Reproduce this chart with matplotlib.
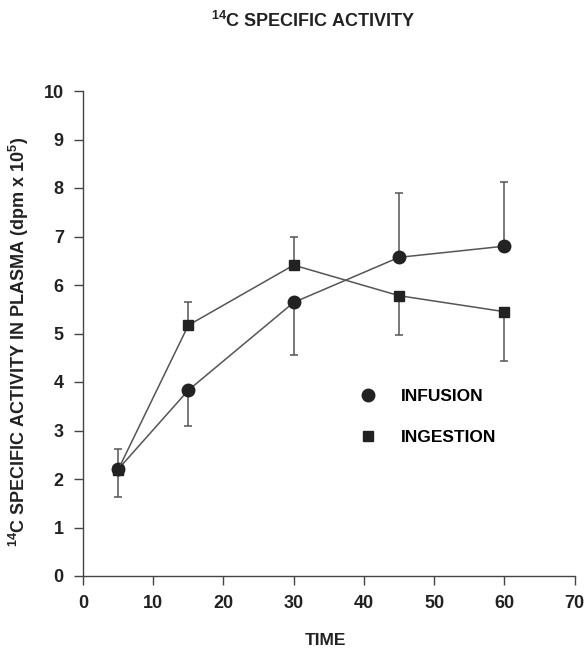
import matplotlib.pyplot as plt
from matplotlib.lines import Line2D

plt.rcParams['font.family'] = ['Liberation Sans', 'DejaVu Sans']
plt.rcParams['font.weight'] = 'bold'
plt.rcParams['mathtext.fontset'] = 'custom'
plt.rcParams['mathtext.rm'] = 'Liberation Sans:bold'
plt.rcParams['mathtext.bf'] = 'Liberation Sans:bold'
plt.rcParams['mathtext.default'] = 'bf'

time = [5, 15, 30, 45, 60]
infusion = [2.2, 3.83, 5.64, 6.57, 6.8]
infusion_lo = [0.57, 0.73, 1.08, 0.0, 0.0]
infusion_hi = [0.0, 0.0, 0.0, 1.32, 1.33]
ingestion = [2.19, 5.17, 6.41, 5.78, 5.45]
ingestion_lo = [0.0, 0.0, 0.0, 0.82, 1.01]
ingestion_hi = [0.42, 0.47, 0.57, 0.0, 0.0]

fig = plt.figure(figsize=(5.88, 6.5), dpi=100)
ax = fig.add_axes([83/588, 1-576/650, 491.5/588, 485/650])

ink = '#222222'
line_c = '#555555'
ax.errorbar(time, infusion, yerr=[infusion_lo, infusion_hi], fmt='-o', color=line_c,
            mfc=ink, mec=ink, ms=9, lw=1.1, ecolor=line_c, elinewidth=1.1,
            capsize=2.8, capthick=1.1, zorder=3)
ax.errorbar(time, ingestion, yerr=[ingestion_lo, ingestion_hi], fmt='-s', color=line_c,
            mfc=ink, mec=ink, ms=7.5, lw=1.1, ecolor=line_c, elinewidth=1.1,
            capsize=2.8, capthick=1.1, zorder=3)

ax.set_xlim(0, 70)
ax.set_ylim(0, 10)
ax.set_xticks(range(0, 71, 10))
ax.set_yticks(range(0, 11))
for s in ['top', 'right']:
    ax.spines[s].set_visible(False)
for s in ['left', 'bottom']:
    ax.spines[s].set_color('#444444')
    ax.spines[s].set_linewidth(1.0)
ax.tick_params(direction='out', length=6.8, width=1.0, color='#444444',
               labelsize=13, labelcolor=ink, pad=7)
for lab in ax.get_xticklabels() + ax.get_yticklabels():
    lab.set_fontweight('bold')

ax.set_xlabel('TIME', fontsize=12.5, fontweight='bold', color=ink)
ax.xaxis.set_label_coords(0.494, -0.118)
ax.set_ylabel(r'$^{14}$C SPECIFIC ACTIVITY IN PLASMA (dpm x 10$^5$)',
              fontsize=13, fontweight='bold', color=ink)
ax.yaxis.set_label_coords(-0.106, 0.482)
fig.text(0.532, 1-21/650, r'$^{14}$C SPECIFIC ACTIVITY', ha='center', va='center',
         fontsize=13, fontweight='bold', color=ink)

handles = [Line2D([], [], marker='o', ls='none', color=ink, ms=9),
           Line2D([], [], marker='s', ls='none', color=ink, ms=7)]
ax.legend(handles, ['INFUSION', 'INGESTION'], loc='center left',
          bbox_to_anchor=(0.545, 0.3275), frameon=False, borderpad=0,
          labelspacing=1.5, handletextpad=1.36, handlelength=1.0,
          prop={'weight': 'bold', 'size': 12.5})

fig.savefig('out.png', dpi=100)
